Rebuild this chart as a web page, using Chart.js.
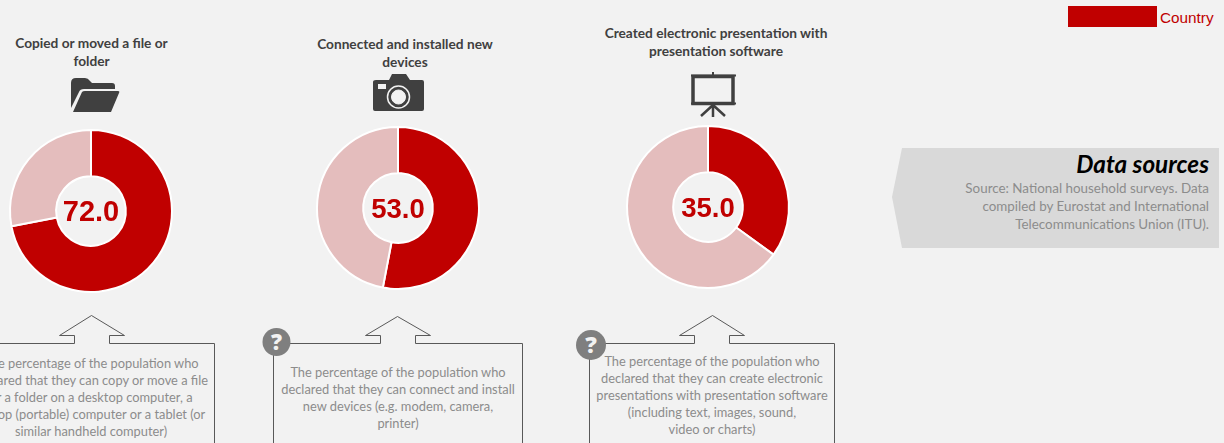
<!DOCTYPE html>
<html>
<head>
<meta charset="utf-8">
<script src="https://cdn.jsdelivr.net/npm/chart.js@4"></script>
<style>
  html, body { margin: 0; padding: 0; }
  body { width: 1224px; height: 443px; overflow: hidden; background: #f2f2f2; position: relative; font-family: Lato, sans-serif; }
  .donut { position: absolute; width: 170px; height: 170px; }
  .title { position: absolute; text-align: center; font-weight: 700; font-size: 13.7px; line-height: 18px; color: #404040; }
  .note { position: absolute; text-align: center; font-size: 12.85px; line-height: 17px; color: #8c8c8c; white-space: nowrap; }
  svg { position: absolute; left: 0; top: 0; }
</style>
</head>
<body>

<svg width="1224" height="443">
  <!-- data sources arrow -->
  <polygon points="902,148 1219,148 1219,248 902,248 892,197" fill="#d9d9d9"/>
  <!-- legend swatch -->
  <rect x="1068" y="6" width="89" height="21" fill="#c00000"/>

  <!-- folder icon -->
  <path d="M71 108 V83 Q71 78 76 78 H85 Q88 78 90 81 L92 83 H112 Q115 83 115 86 V89 H84 Q80 89 79 92 Z" fill="#404040"/>
  <path d="M73 112 L82 92 Q83 91 85 91 H118 Q120 91 119 93 L111 112 Z" fill="#404040"/>

  <!-- camera icon -->
  <path d="M376 80 H389 L392 74 H406 L410 80 H422 Q424 80 424 82 V109 Q424 111 422 111 H375 Q373 111 373 109 V82 Q373 80 376 80 Z" fill="#404040"/>
  <rect x="378" y="84" width="8" height="5" fill="#f2f2f2"/>
  <circle cx="398.500" cy="97" r="11" fill="#404040" stroke="#f2f2f2" stroke-width="1.500"/>
  <circle cx="398.500" cy="97" r="7" fill="#f2f2f2" stroke="#f2f2f2"/>

  <!-- presentation icon -->
  <g stroke="#404040" fill="none">
    <rect x="693" y="76.500" width="40" height="27" stroke-width="3.500"/>
    <path d="M691 75.500 H736 M691 103.500 H736" stroke-width="2"/>
    <path d="M713 72 V75" stroke-width="2"/>
    <path d="M713 104 V117 M713 105 L701 116 M713 105 L725 116" stroke-width="2.500"/>
  </g>

  <!-- callout boxes -->
  <g fill="none" stroke="#595959" stroke-width="1">
    <path d="M-10 343.500 H74.500 V335.500 H59.500 L91.500 315.500 L124.500 335.500 H109.500 V343.500 H214.500 V443"/>
    <path d="M273.500 443 V343.500 H380.500 V335.500 H365.500 L397.500 316.500 L430.500 335.500 H415.500 V343.500 H522.500 V443"/>
    <path d="M589.500 443 V343.500 H694.500 V335.500 H679.500 L712.500 315.500 L744.500 335.500 H729.500 V343.500 H834.500 V443"/>
  </g>

  <!-- question badges -->
  <circle cx="276.500" cy="342" r="14" fill="#7f7f7f"/>
  <circle cx="591" cy="345" r="15" fill="#7f7f7f"/>
  <text x="276.500" y="350" text-anchor="middle" font-family="Open Sans" font-weight="800" font-size="22" fill="#f2f2f2">?</text>
  <text x="591" y="353" text-anchor="middle" font-family="Open Sans" font-weight="800" font-size="23" fill="#f2f2f2">?</text>
</svg>

<div class="title" style="left:0;top:34px;width:183px">Copied or moved a file or<br>folder</div>
<div class="title" style="left:305px;top:35px;width:200px">Connected and installed new<br>devices</div>
<div class="title" style="left:596px;top:24px;width:240px">Created electronic presentation with<br>presentation software</div>

<canvas id="d1" class="donut" style="left:6px;top:126px"></canvas>
<canvas id="d2" class="donut" style="left:313px;top:123px"></canvas>
<canvas id="d3" class="donut" style="left:623px;top:122px"></canvas>

<div class="note" style="left:-29px;top:355px;width:240px">The percentage of the population who<br>declared that they can copy or move a file<br>or a folder on a desktop computer, a<br>laptop (portable) computer or a tablet (or<br>similar handheld computer)</div>
<div class="note" style="left:274px;top:364px;width:248px">The percentage of the population who<br>declared that they can connect and install<br>new devices (e.g. modem, camera,<br>printer)</div>
<div class="note" style="left:590px;top:353px;width:244px">The percentage of the population who<br>declared that they can create electronic<br>presentations with presentation software<br>(including text, images, sound,<br>video or charts)</div>

<div style="position:absolute;left:1160px;top:9px;font-family:'Liberation Sans';font-size:15.300px;color:#c00000">Country</div>
<div style="position:absolute;right:15px;top:149px;font-size:24.300px;font-weight:700;font-style:italic;color:#000">Data sources</div>
<div class="note" style="right:15px;left:auto;top:179px;width:290px;text-align:right;line-height:18px;font-size:13.400px">Source: National household surveys. Data<br>compiled by Eurostat and International<br>Telecommunications Union (ITU).</div>

<script>
const segmentLabels = ['Yes', 'Other'];
const fileValues = [72.0, 28.0];
const deviceValues = [53.0, 47.0];
const presentationValues = [35.0, 65.0];
const segmentColors = ['#c00000', '#e4bdbd'];

// draws the number inside the hole
const centerLabel = {
  id: 'centerLabel',
  afterDraw(chart) {
    const arc = chart.getDatasetMeta(0).data[0];
    const ctx = chart.ctx;
    ctx.save();
    ctx.fillStyle = '#c00000';
    ctx.font = 'bold ' + chart.options.plugins.centerLabel.size + 'px "Liberation Sans"';
    ctx.textAlign = 'center';
    ctx.textBaseline = 'middle';
    ctx.fillText(chart.data.datasets[0].data[0].toFixed(1), arc.x, arc.y + 2);
    ctx.restore();
  }
};

function makeDonut(id, values, size) {
  new Chart(document.getElementById(id), {
    type: 'doughnut',
    data: {
      labels: segmentLabels,
      datasets: [{
        data: values,
        backgroundColor: segmentColors,
        borderColor: '#ffffff',
        borderWidth: 2
      }]
    },
    options: {
      responsive: false,
      animation: false,
      cutout: '43%',
      layout: { padding: 3 },
      plugins: { legend: { display: false }, tooltip: { enabled: false }, centerLabel: { size: size } }
    },
    plugins: [centerLabel]
  });
}

makeDonut('d1', fileValues, 29);
makeDonut('d2', deviceValues, 27.5);
makeDonut('d3', presentationValues, 27.5);
</script>
</body>
</html>
